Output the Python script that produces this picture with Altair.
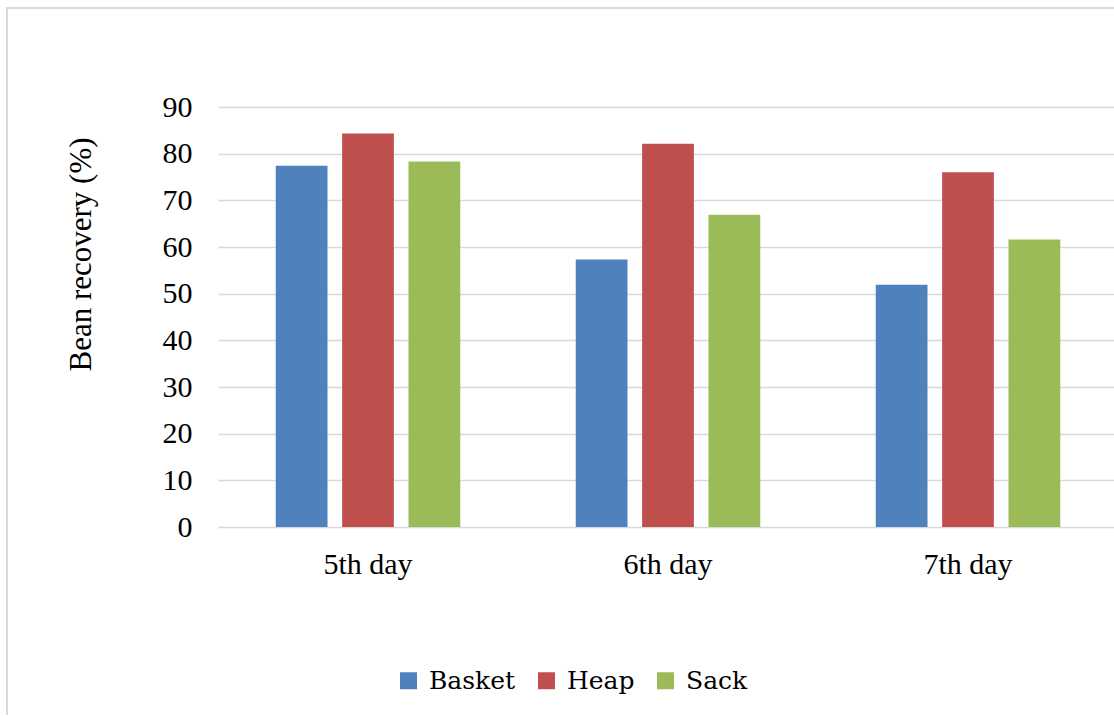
import altair as alt
import pandas as pd

# Bean recovery (%) by storage method and day
days = ["5th day", "6th day", "7th day"]
methods = ["Basket", "Heap", "Sack"]
basket = [77.4, 57.3, 51.9]
heap = [84.3, 82.1, 76.0]
sack = [78.3, 66.9, 61.6]
y_ticks = [0, 10, 20, 30, 40, 50, 60, 70, 80, 90]
colors = ["#4F81BD", "#C0504D", "#9BBB59"]

rows = []
for series_name, values in zip(methods, [basket, heap, sack]):
    for day, v in zip(days, values):
        rows.append({"day": day, "method": series_name, "value": v})
df = pd.DataFrame(rows)

FONT = "Liberation Serif"
LEGEND_FONT = "DejaVu Serif"
W, H = 896, 420

bars = alt.Chart(df).mark_bar().encode(
    x=alt.X("day:N", sort=days,
            scale=alt.Scale(paddingInner=0, paddingOuter=0, range=[0, 900]),
            axis=alt.Axis(title=None, labelAngle=0, domain=False, ticks=False,
                          labelPadding=22, labelFontSize=30, labelFont=FONT,
                          labelColor="black")),
    xOffset=alt.XOffset("method:N", sort=methods,
                        scale=alt.Scale(paddingInner=0.22, paddingOuter=0.87)),
    y=alt.Y("value:Q",
            scale=alt.Scale(domain=[0, 90], nice=False),
            axis=alt.Axis(values=y_ticks, title="Bean recovery (%)",
                          domain=False, ticks=False, grid=True,
                          gridColor="#d9d9d9", gridWidth=1.5,
                          labelPadding=26, labelFontSize=30, labelFont=FONT,
                          labelColor="black",
                          titleFont=FONT, titleFontSize=31, titleFontWeight="normal",
                          titleColor="black", titleAngle=-90,
                          titleX=-137, titleY=147,
                          titleAlign="center", titleBaseline="middle")),
    color=alt.Color("method:N", sort=methods,
                    scale=alt.Scale(domain=methods, range=colors),
                    legend=alt.Legend(title=None, orient="none", direction="horizontal",
                                      legendX=178, legendY=561,
                                      symbolType="square", symbolSize=289,
                                      symbolStrokeWidth=0, symbolOpacity=1,
                                      labelFont=LEGEND_FONT, labelFontSize=25,
                                      labelColor="black", labelLimit=0,
                                      labelOffset=8, columnPadding=18, padding=0)),
)

# light outer frame of the chart
frame = alt.Chart(pd.DataFrame({"k": [0]})).mark_rect(
    fill=None, stroke="#d9d9d9", strokeWidth=2
).encode(
    x=alt.value(-211), x2=alt.value(W + 20),
    y=alt.value(-99), y2=alt.value(H + 220),
)

chart = alt.layer(bars, frame).properties(
    width=W, height=H,
    autosize=alt.AutoSizeParams(type="none"),
    padding={"left": 218, "top": 107, "right": 0, "bottom": 188},
).configure(background="white", font=FONT).configure_view(stroke=None)

chart.save("out.html", embed_options={"renderer": "svg", "actions": False})
